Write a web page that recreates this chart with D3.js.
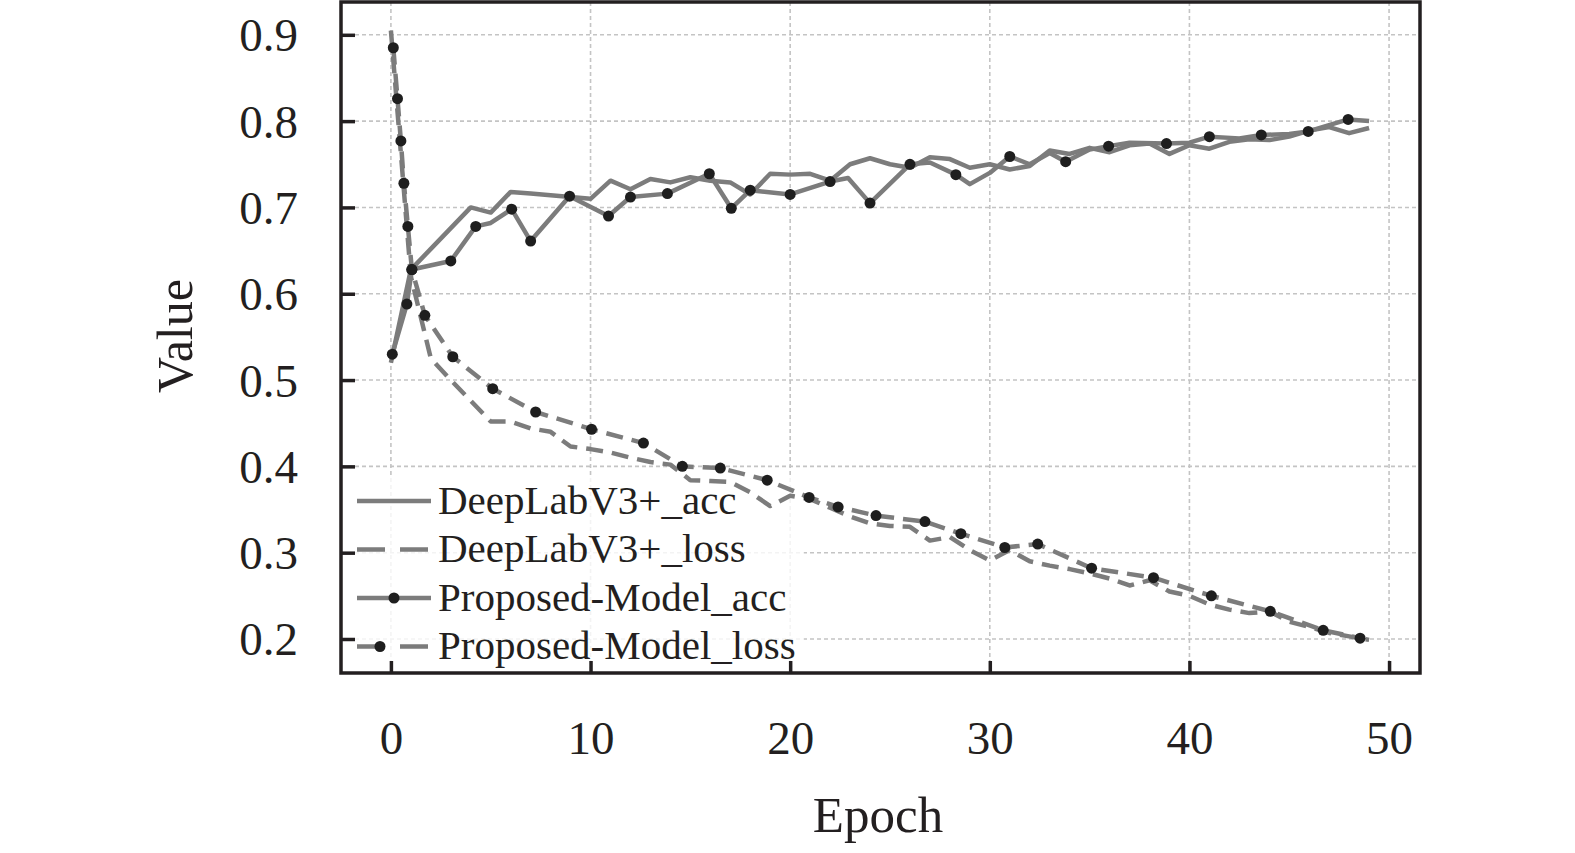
<!DOCTYPE html>
<html>
<head>
<meta charset="utf-8">
<script src="https://cdn.jsdelivr.net/npm/d3@7"></script>
<style>
  html, body { margin: 0; padding: 0; background: #fff; }
  svg text { font-family: "Liberation Serif", "Times New Roman", serif; fill: #231f20; }
</style>
</head>
<body>
<svg id="chart" width="1575" height="853"></svg>
<script>
// Tick values
const xTicks = [0, 10, 20, 30, 40, 50];
const yTicks = [0.2, 0.3, 0.4, 0.5, 0.6, 0.7, 0.8, 0.9];

// DeepLabV3+ (one value per epoch, 0..49)
const dlEpochs = d3.range(0, 50);
const dlAcc = [0.520, 0.628, 0.652, 0.676, 0.700, 0.694, 0.718, 0.716, 0.714, 0.712,
               0.710, 0.731, 0.721, 0.733, 0.729, 0.735, 0.731, 0.729, 0.715, 0.739,
               0.738, 0.739, 0.731, 0.750, 0.757, 0.750, 0.746, 0.758, 0.756, 0.746,
               0.750, 0.744, 0.748, 0.766, 0.762, 0.769, 0.764, 0.772, 0.774, 0.762,
               0.772, 0.768, 0.776, 0.779, 0.778, 0.782, 0.789, 0.793, 0.786, 0.792];
const dlLoss = [0.905, 0.620, 0.525, 0.500, 0.476, 0.452, 0.452, 0.444, 0.440, 0.423,
                0.420, 0.416, 0.410, 0.405, 0.402, 0.384, 0.383, 0.382, 0.370, 0.354,
                0.366, 0.362, 0.352, 0.342, 0.334, 0.331, 0.330, 0.314, 0.318, 0.303,
                0.291, 0.303, 0.290, 0.285, 0.281, 0.276, 0.270, 0.262, 0.268, 0.255,
                0.250, 0.240, 0.234, 0.230, 0.232, 0.220, 0.214, 0.207, 0.203, 0.199];

// Proposed model (logged at uneven epochs)
const pmAccEpochs = [0.07, 0.8, 1.05, 3.0, 4.25, 5.0, 6.05, 7.0, 8.95, 10.9,
                     12.0, 13.85, 15.95, 17.05, 18.0, 20.0, 22.0, 22.9, 24.0, 26.0,
                     27.0, 28.3, 29.0, 30.0, 31.0, 32.0, 33.0, 33.8, 35.0, 35.95,
                     37.0, 38.85, 40.0, 41.0, 42.5, 43.6, 45.0, 45.95, 47.95, 49.0];
const pmAcc = [0.530, 0.588, 0.628, 0.638, 0.678, 0.682, 0.698, 0.661, 0.713, 0.690,
               0.712, 0.716, 0.739, 0.699, 0.720, 0.715, 0.730, 0.734, 0.705, 0.750,
               0.752, 0.738, 0.727, 0.740, 0.759, 0.750, 0.763, 0.753, 0.767, 0.771,
               0.775, 0.774, 0.775, 0.782, 0.780, 0.784, 0.785, 0.788, 0.802, 0.800];
// indices of pmAcc points drawn with a marker
const pmAccMarks = [0, 1, 2, 3, 4, 6, 7, 8, 9, 10, 11, 12, 13, 14, 15, 16, 18, 19,
                    21, 24, 27, 29, 31, 33, 35, 37, 38];

const pmLossEpochs = [0.12, 0.33, 0.5, 0.65, 0.85, 1.05, 1.7, 3.1, 5.1, 7.25,
                      10.05, 12.65, 14.6, 16.5, 18.85, 20.95, 22.4, 24.3, 26.75, 28.55,
                      30.75, 32.4, 35.1, 38.2, 41.1, 44.05, 46.7, 48.55];
const pmLoss = [0.885, 0.826, 0.777, 0.728, 0.678, 0.628, 0.575, 0.527, 0.490, 0.463,
                0.443, 0.427, 0.400, 0.398, 0.384, 0.364, 0.353, 0.343, 0.336, 0.322,
                0.306, 0.310, 0.282, 0.271, 0.250, 0.232, 0.210, 0.201];

const legendLabels = ['DeepLabV3+_acc', 'DeepLabV3+_loss', 'Proposed-Model_acc', 'Proposed-Model_loss'];

const svg = d3.select('#chart');
const plot = {left: 341, right: 1420, top: 2, bottom: 673};

const x = d3.scaleLinear().domain([-2.5, 51.55]).range([plot.left, plot.right]);
const y = d3.scaleLinear().domain([0.1606, 0.938]).range([plot.bottom, plot.top]);

const lineColor = '#7c7c7c';
const dotColor = '#1e1e1e';
const dash = '17,9';

// Grid
const grid = svg.append('g').attr('stroke', '#c4c4c4').attr('stroke-width', 1.6)
    .attr('stroke-dasharray', '4,3');
grid.selectAll('.gx').data(xTicks).enter().append('line')
    .attr('x1', d => x(d)).attr('x2', d => x(d))
    .attr('y1', plot.top).attr('y2', plot.bottom);
grid.selectAll('.gy').data(yTicks).enter().append('line')
    .attr('x1', plot.left).attr('x2', plot.right)
    .attr('y1', d => y(d)).attr('y2', d => y(d));

// Legend background sits under the data lines, over the grid
const legend = svg.append('g');
legend.append('rect')
    .attr('x', 352).attr('y', 476).attr('width', 452).attr('height', 190)
    .attr('fill', '#fff').attr('opacity', 0.8);

// Lines
const line = d3.line().x(d => x(d[0])).y(d => y(d[1]));
const dlAccPts = dlEpochs.map((e, i) => [e, dlAcc[i]]);
const dlLossPts = dlEpochs.map((e, i) => [e, dlLoss[i]]);
const pmAccPts = pmAccEpochs.map((e, i) => [e, pmAcc[i]]);
const pmLossPts = pmLossEpochs.map((e, i) => [e, pmLoss[i]]);

const series = [
    {pts: dlAccPts, dashed: false},
    {pts: dlLossPts, dashed: true},
    {pts: pmAccPts, dashed: false},
    {pts: pmLossPts, dashed: true}
];
series.forEach(s => {
    svg.append('path')
        .datum(s.pts)
        .attr('fill', 'none')
        .attr('stroke', lineColor)
        .attr('stroke-width', 4.5)
        .attr('stroke-linejoin', 'round')
        .attr('stroke-dasharray', s.dashed ? dash : null)
        .attr('d', line);
});

// Markers
svg.append('g').selectAll('circle')
    .data(pmAccMarks.map(i => pmAccPts[i]).concat(pmLossPts))
    .enter().append('circle')
    .attr('cx', d => x(d[0]))
    .attr('cy', d => y(d[1]))
    .attr('r', 5.5)
    .attr('fill', dotColor);

// Legend entries
legendLabels.forEach((label, i) => {
    const cy = 501 + i * 48.5;
    legend.append('line')
        .attr('x1', 357).attr('x2', 431)
        .attr('y1', cy).attr('y2', cy)
        .attr('stroke', lineColor).attr('stroke-width', 4.5)
        .attr('stroke-dasharray', i % 2 === 1 ? '28,15' : null);
    if (i >= 2) {
        legend.append('circle')
            .attr('cx', i === 2 ? 394 : 380).attr('cy', cy)
            .attr('r', 5.5).attr('fill', dotColor);
    }
    legend.append('text')
        .attr('x', 438).attr('y', cy + 12.5)
        .style('font-size', '41px')
        .text(label);
});

// Axes
const yAxis = d3.axisLeft(y).tickValues(yTicks).tickSize(-14).tickPadding(43)
    .tickFormat(d3.format('.1f'));
const gy = svg.append('g').attr('transform', `translate(${plot.left},0)`).call(yAxis);
gy.select('.domain').remove();
gy.selectAll('line').attr('stroke', '#231f20').attr('stroke-width', 3.5);
gy.selectAll('text').style('font-size', '47px').attr('font-family', null).attr('fill', '#231f20')
    .attr('dy', '0.34em');

const xAxis = d3.axisBottom(x).tickValues(xTicks).tickSize(-12).tickPadding(48);
const gx = svg.append('g').attr('transform', `translate(0,${plot.bottom})`).call(xAxis);
gx.select('.domain').remove();
gx.selectAll('line').attr('stroke', '#231f20').attr('stroke-width', 3.5);
gx.selectAll('text').style('font-size', '47px').attr('font-family', null).attr('fill', '#231f20');

// Frame
svg.append('rect')
    .attr('x', plot.left).attr('y', plot.top)
    .attr('width', plot.right - plot.left).attr('height', plot.bottom - plot.top)
    .attr('fill', 'none').attr('stroke', '#231f20').attr('stroke-width', 3.5);

// Axis titles
svg.append('text')
    .attr('x', 878).attr('y', 832)
    .attr('text-anchor', 'middle')
    .style('font-size', '51px')
    .text('Epoch');
svg.append('text')
    .attr('transform', 'translate(192,336) rotate(-90)')
    .attr('text-anchor', 'middle')
    .style('font-size', '50px')
    .text('Value');
</script>
</body>
</html>
